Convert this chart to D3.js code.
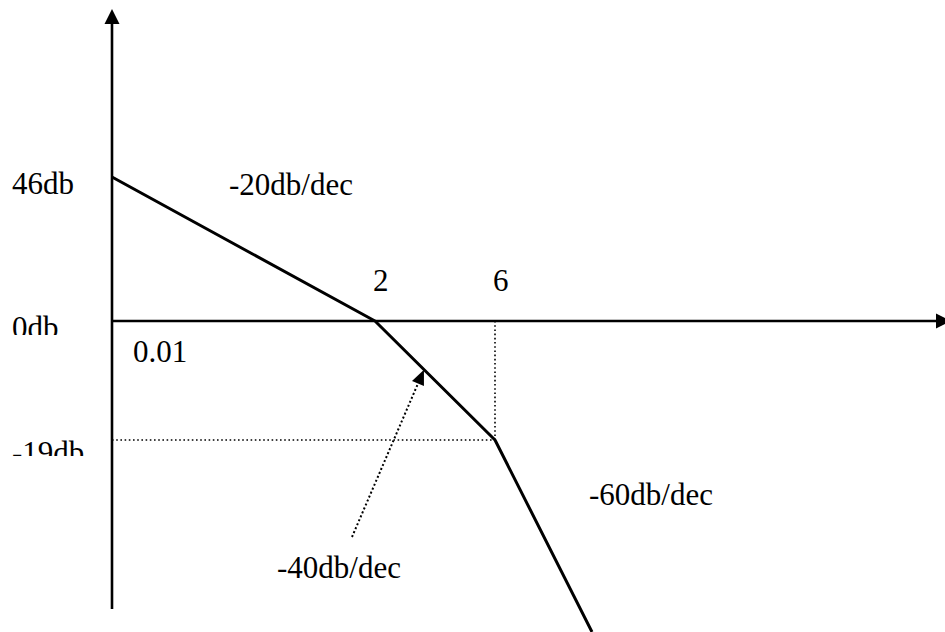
<!DOCTYPE html>
<html>
<head>
<meta charset="utf-8">
<script src="https://cdn.jsdelivr.net/npm/d3@7"></script>
<style>
  html, body { margin: 0; padding: 0; background: #fff; }
  svg { display: block; }
  text { font-family: "Liberation Serif", "Times New Roman", serif; font-size: 31px; fill: #000; }
</style>
</head>
<body>
<svg id="chart" width="945" height="632"></svg>
<script>
// ---- data ----
const breakFreqs = [0.01, 2, 6, 20];          // rad/s at corners (last = off-chart end)
const breakGains = [46, 0, -19, -50];         // dB at those corners
const slopeLabels = ["-20db/dec", "-40db/dec", "-60db/dec"];
const yTickValues = [46, 0, -19];
const yTickLabels = ["46db", "0db", "-19db"];
const xTickValues = [0.01, 2, 6];
const xTickLabels = ["0.01", "2", "6"];
const arrowFreq = 3.13;                        // point on -40 dB/dec segment the arrow points to

// ---- layout ----
const W = 945, H = 632;
const axisX = 112, axisTop = 9, axisBottom = 609;
const svg = d3.select("#chart");

// sketch is not to scale: piecewise scales through the corner points
const x = d3.scaleLog().domain(breakFreqs).range([axisX, 375, 495, 592]);
const y = d3.scaleLinear().domain(breakGains).range([177, 321, 440, 632]);
const y0 = y(0);

// dotted guide lines for the 6 rad/s corner
const fC = breakFreqs[2], gC = breakGains[2];
svg.append("line")
  .attr("x1", x(fC)).attr("x2", x(fC)).attr("y1", y0).attr("y2", y(gC))
  .attr("stroke", "#000").attr("stroke-width", 1.6).attr("stroke-dasharray", "1.6,2.6");
svg.append("line")
  .attr("x1", axisX).attr("x2", x(fC)).attr("y1", y(gC)).attr("y2", y(gC))
  .attr("stroke", "#000").attr("stroke-width", 1.6).attr("stroke-dasharray", "1.6,2.6");

// axes
svg.append("line").attr("x1", axisX).attr("x2", axisX).attr("y1", axisBottom).attr("y2", axisTop + 12)
  .attr("stroke", "#000").attr("stroke-width", 2.6);
svg.append("path")
  .attr("d", `M${axisX},${axisTop} L${axisX - 7.5},${axisTop + 15} L${axisX + 7.5},${axisTop + 15} Z`)
  .attr("fill", "#000");
svg.append("line").attr("x1", axisX).attr("x2", W - 5).attr("y1", y0).attr("y2", y0)
  .attr("stroke", "#000").attr("stroke-width", 2.6);
svg.append("path")
  .attr("d", `M${W + 6},${y0} L${W - 9},${y0 - 7.5} L${W - 9},${y0 + 7.5} Z`)
  .attr("fill", "#000");

// asymptotic magnitude line
const pts = breakFreqs.map((f, i) => [f, breakGains[i]]);
svg.append("path")
  .datum(pts)
  .attr("d", d3.line().x(d => x(d[0])).y(d => y(d[1])))
  .attr("fill", "none").attr("stroke", "#000").attr("stroke-width", 3)
  .attr("stroke-linejoin", "round");

// y tick labels (clipped text boxes as in original)
const clips = [null, 335, 456];
const yLabelBase = [194, 338, 463];
const defs = svg.append("defs");
yTickValues.forEach((v, i) => {
  const t = svg.append("text").attr("x", 12).attr("y", y(v) + (yLabelBase[i] - y(v))).text(yTickLabels[i]);
  if (clips[i] !== null) {
    const id = "clip" + i;
    defs.append("clipPath").attr("id", id)
      .append("rect").attr("x", 0).attr("y", 0).attr("width", 100).attr("height", clips[i]);
    t.attr("clip-path", `url(#${id})`);
  }
});

// x tick labels
svg.append("text").attr("x", x(xTickValues[0]) + 21).attr("y", y0 + 41).text(xTickLabels[0]);
svg.append("text").attr("x", x(xTickValues[1]) - 2).attr("y", y0 - 30).text(xTickLabels[1]);
svg.append("text").attr("x", x(xTickValues[2]) - 2).attr("y", y0 - 30).text(xTickLabels[2]);

// slope labels
svg.append("text").attr("x", 229).attr("y", 195).text(slopeLabels[0]);
svg.append("text").attr("x", 277).attr("y", 578).text(slopeLabels[1]);
svg.append("text").attr("x", 589).attr("y", 505).text(slopeLabels[2]);

// dotted arrow from -40db/dec label to segment
const gArrow = breakGains[1] - 40 * Math.log10(arrowFreq / breakFreqs[1]);
const tip = [x(arrowFreq), y(gArrow)];
const tail = [352, 537];
const dx = tip[0] - tail[0], dy = tip[1] - tail[1];
const len = Math.hypot(dx, dy), ux = dx / len, uy = dy / len;
const headL = 15, headW = 6.5;
const base = [tip[0] - ux * headL, tip[1] - uy * headL];
svg.append("line")
  .attr("x1", tail[0]).attr("y1", tail[1]).attr("x2", base[0]).attr("y2", base[1])
  .attr("stroke", "#000").attr("stroke-width", 2).attr("stroke-dasharray", "2,2.3");
svg.append("path")
  .attr("d", `M${tip[0]},${tip[1]} L${base[0] - uy * headW},${base[1] + ux * headW} L${base[0] + uy * headW},${base[1] - ux * headW} Z`)
  .attr("fill", "#000");
</script>
</body>
</html>
